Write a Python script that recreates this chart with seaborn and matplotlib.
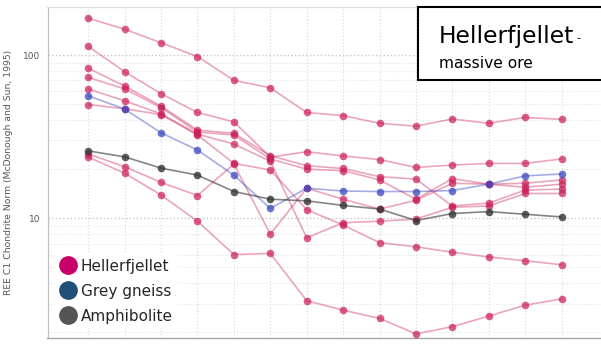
import numpy as np
import pandas as pd
import seaborn as sns
import matplotlib.pyplot as plt
import matplotlib.ticker as mticker
from matplotlib.lines import Line2D
from matplotlib.patches import Rectangle

# Rare earth elements in order of atomic number
elements = ["La", "Ce", "Pr", "Nd", "Sm", "Eu", "Gd", "Tb", "Dy", "Ho", "Er", "Tm", "Yb", "Lu"]

# Chondrite-normalised REE values, Hellerfjellet massive ore samples
hf_1 = [168, 144, 119, 98, 70, 63, 44.5, 42.6, 38.2, 36.7, 40.6, 38.2, 41.5, 40.4]
hf_2 = [113, 79, 58, 44.5, 39, 23.7, 25.6, 24.1, 22.9, 20.5, 21.2, 21.7, 21.7, 23.1]
hf_3 = [83, 64.6, 48.7, 34.7, 33.2, 24.2, 21.0, 20.2, 18.0, 17.4, 11.9, 12.4, 14.9, 15.1]
hf_4 = [73, 62, 47.7, 33.8, 32.4, 23.1, 20.0, 19.6, 17.2, 13.1, 17.5, 16.2, 16.4, 17.2]
hf_5 = [62, 52.4, 43.7, 32.8, 28.5, 22.4, 7.6, 9.4, 9.6, 9.9, 11.7, 11.9, 14.2, 14.2]
hf_6 = [49.8, 46.9, 43.2, 32.4, 21.7, 19.8, 11.3, 9.1, 7.1, 6.7, 6.2, 5.8, 5.5, 5.2]
hf_7 = [24.8, 20.7, 16.6, 13.8, 21.5, 8.0, 15.3, 13.1, 11.4, 12.9, 16.4, 16.2, 15.5, 16.2]
hf_8 = [23.7, 18.9, 13.9, 9.6, 6.0, 6.1, 3.13, 2.74, 2.44, 1.96, 2.17, 2.52, 2.94, 3.21]

# Host rocks
grey_gneiss = [56.3, 46.7, 33.4, 26.2, 18.4, 11.5, 15.3, 14.7, 14.6, 14.6, 14.8, 16.2, 18.2, 18.7]
amphibolite = [25.9, 23.8, 20.3, 18.4, 14.6, 13.1, 12.8, 12.0, 11.4, 9.7, 10.7, 11.0, 10.6, 10.2]

groups = ["Hellerfjellet", "Grey gneiss", "Amphibolite"]
samples = {
    "HF-1": ("Hellerfjellet", hf_1), "HF-2": ("Hellerfjellet", hf_2),
    "HF-3": ("Hellerfjellet", hf_3), "HF-4": ("Hellerfjellet", hf_4),
    "HF-5": ("Hellerfjellet", hf_5), "HF-6": ("Hellerfjellet", hf_6),
    "HF-7": ("Hellerfjellet", hf_7), "HF-8": ("Hellerfjellet", hf_8),
    "GG-1": ("Grey gneiss", grey_gneiss), "AM-1": ("Amphibolite", amphibolite),
}

rows = []
for name, (grp, vals) in samples.items():
    for i, (el, v) in enumerate(zip(elements, vals)):
        rows.append({"sample": name, "group": grp, "element": el, "pos": i, "value": v})
df = pd.DataFrame(rows)

point_colors = {"Hellerfjellet": "#CC1F5A", "Grey gneiss": "#3A48C0", "Amphibolite": "#333333"}
legend_colors = {"Hellerfjellet": "#C8006A", "Grey gneiss": "#1F4E79", "Amphibolite": "#555555"}
line_alpha = {"Hellerfjellet": 0.4, "Grey gneiss": 0.45, "Amphibolite": 0.6}
point_alpha = {"Hellerfjellet": 0.72, "Grey gneiss": 0.75, "Amphibolite": 0.8}

sns.set_style("white")
plt.rcParams["font.family"] = ["DejaVu Sans"]

W, H = 601, 345
fig = plt.figure(figsize=(W / 100, H / 100), dpi=100)
ax = fig.add_axes([47.5 / W, 1 - 338 / H, (602.3 - 47.5) / W, (338 - 7) / H])

for grp in groups:
    sub = df[df["group"] == grp]
    sns.lineplot(data=sub, x="pos", y="value", units="sample", estimator=None,
                 color=point_colors[grp], alpha=line_alpha[grp], linewidth=1.2,
                 sort=False, ax=ax, legend=False, zorder=2)
    sns.scatterplot(data=sub, x="pos", y="value", color=point_colors[grp],
                    alpha=point_alpha[grp], s=30, linewidth=0, ax=ax,
                    legend=False, zorder=3)

ax.set_yscale("log")
ax.set_ylim(1.85, 197)
ax.set_xlim(-1.12, 14.12)
ax.set_xticks(range(len(elements)))
ax.set_xticklabels(elements)
ax.tick_params(axis="x", labelbottom=False, length=0)

ax.yaxis.set_major_locator(mticker.LogLocator(base=10, numticks=10))
ax.yaxis.set_minor_locator(mticker.LogLocator(base=10, subs=np.arange(2, 10), numticks=20))
ax.yaxis.set_major_formatter(mticker.FuncFormatter(lambda v, p: f"{v:g}"))
ax.yaxis.set_minor_formatter(mticker.NullFormatter())
ax.tick_params(axis="y", which="major", length=3.5, width=0.8, color="#aaaaaa",
               labelsize=6.5, labelcolor="#555555", pad=1.5)
ax.tick_params(axis="y", which="minor", length=2.5, width=0.6, color="#bbbbbb")

ax.grid(True, axis="x", which="major", color="#dddddd", linestyle=":", linewidth=0.9)
ax.grid(True, axis="y", which="major", color="#c8c8c8", linestyle=":", linewidth=1.0)
ax.grid(True, axis="y", which="minor", color="#e4e4e4", linestyle=":", linewidth=0.8)
ax.set_axisbelow(True)

for side, col in (("left", "#c0c0c0"), ("bottom", "#a0a0a0"), ("top", "#e0e0e0"), ("right", "#e0e0e0")):
    ax.spines[side].set_color(col)
    ax.spines[side].set_linewidth(0.9)

ax.set_xlabel("")
ax.set_ylabel("REE C1 Chondrite Norm (McDonough and Sun, 1995)", fontsize=6.7, color="#555555")
ax.yaxis.set_label_coords(-34 / (602.3 - 47.5), 0.5)

handles = [Line2D([], [], marker="o", linestyle="", markersize=13.5,
                  markerfacecolor=legend_colors[g], markeredgewidth=0) for g in groups]
leg = ax.legend(handles, groups, loc="lower left", bbox_to_anchor=(0.008, 0.02),
                frameon=True, facecolor="white", edgecolor="none", framealpha=1,
                fontsize=11, handlelength=1.1, handletextpad=0.3, labelspacing=0.66,
                borderpad=0.3, borderaxespad=0.2)
leg.set_zorder(5)

# title box in the upper right
fig.patches.append(Rectangle((418 / W, 1 - 80 / H), 200 / W, 73 / H, transform=fig.transFigure,
                             facecolor="white", edgecolor="black", linewidth=1.5, zorder=10))
fig.text(439 / W, 1 - 42.5 / H, "Hellerfjellet", fontsize=16.8, color="black",
         va="baseline", ha="left", zorder=11)
fig.text(576 / W, 1 - 41 / H, "-", fontsize=8, color="black", va="baseline", ha="left", zorder=11)
fig.text(439 / W, 1 - 68 / H, "massive ore", fontsize=11.2, color="black",
         va="baseline", ha="left", zorder=11)

fig.savefig("out.png", dpi=100, facecolor="white")
